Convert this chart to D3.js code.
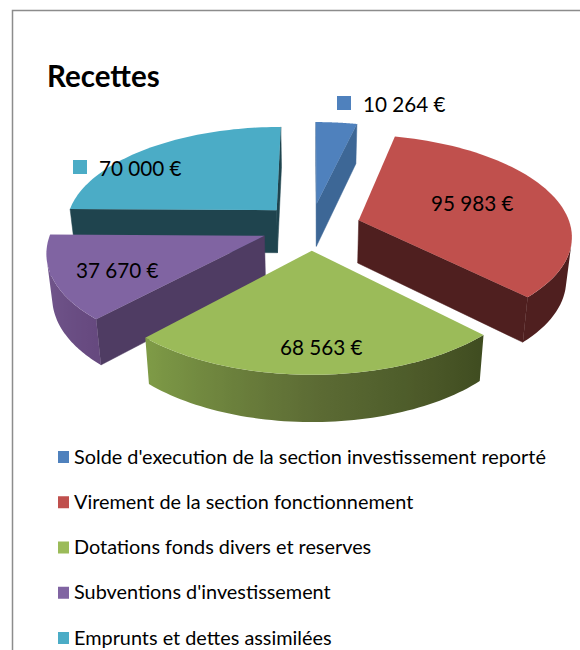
<!DOCTYPE html>
<html>
<head>
<meta charset="utf-8">
<script src="https://cdn.jsdelivr.net/npm/d3@7"></script>
<style>
  html, body { margin: 0; padding: 0; background: #fff; }
  svg { display: block; }
  text { font-family: Lato, "Open Sans", sans-serif; fill: #000; }
</style>
</head>
<body>
<script>
var categories = [
  "Solde d'execution de la section investissement reporté",
  "Virement de la section fonctionnement",
  "Dotations fonds divers et reserves",
  "Subventions d'investissement",
  "Emprunts et dettes assimilées"
];
var values = [10264, 95983, 68563, 37670, 70000];
var valueLabels = ["10 264 €", "95 983 €", "68 563 €", "37 670 €", "70 000 €"];
var topColors = ["#4f81bd", "#c0504d", "#9bbb59", "#8064a2", "#4bacc6"];
var sideColors = ["#3d6796", "#4f1f1f", "#4f3c63", "#4f3c63", "#1f444e"];
// arc wall shading: start of the slice, middle, end (clockwise)
var wallColors = [
  ["#3d6796", "#3d6796", "#3d6796"],
  ["#4f1f1f", "#4f1f1f", "#4f1f1f"],
  ["#3f4c20", "#5c6b34", "#7f9c47"],
  ["#66497f", "#6f5389", "#7a5e94"],
  ["#1f444e", "#2e6675", "#3e8ca0"]
];
// label anchor and marker placement
var labelX = [363, 431, 280, 76, 99];
var labelY = [112, 211, 355, 278, 176];
var markerX = [337, 405, 254, 50, 73];

var w = 580, h = 650;
var cx = 311, cy = 226.5;   // pie centre on screen
var R = 212, flat = 0.468, persp = 0.14;
var explode = 50, depth = 43;

var svg = d3.select('body').append('svg')
    .attr('width', w)
    .attr('height', h);
var defs = svg.append('defs');

// frame
svg.append('path')
    .attr('d', 'M12.5,650V10.5H580')
    .attr('fill', 'none')
    .attr('stroke', '#8c8c8c')
    .attr('stroke-width', 1.5);

svg.append('text')
    .attr('x', 47)
    .attr('y', 87)
    .attr('font-size', 29.5)
    .attr('font-weight', 700)
    .text('Recettes');

var arcs = d3.pie().sort(null)(values);
var line = d3.line();

// ground plane point (right, far) + height drop -> screen
function project(gx, gy, drop) {
  var s = 1 / (1 + persp * gy / R);
  var shrink = 1 - 0.022 * drop;
  return [cx + gx * s * shrink, cy - gy * s * flat + drop * depth * Math.sqrt(s)];
}

function polar(a, r, d) {
  var mid = (d.startAngle + d.endAngle) / 2;
  return [explode * Math.sin(mid) + r * Math.sin(a), explode * Math.cos(mid) + r * Math.cos(a)];
}

function pt(a, r, d, drop) {
  var p = polar(a, r, d);
  return project(p[0], p[1], drop);
}

// signed area of a quad on screen, tells which way a wall faces
function facing(q) {
  var sum = 0;
  q.forEach(function (p, i) {
    var n = q[(i + 1) % q.length];
    sum += p[0] * n[1] - n[0] * p[1];
  });
  return sum;
}

var order = d3.range(arcs.length).sort(function (a, b) {
  var ma = (arcs[a].startAngle + arcs[a].endAngle) / 2;
  var mb = (arcs[b].startAngle + arcs[b].endAngle) / 2;
  return Math.cos(mb) - Math.cos(ma);
});

order.forEach(function (i) {
  var d = arcs[i];
  var g = svg.append('g').attr('class', 'slice');
  var angles = d3.range(0, 61).map(function (k) {
    return d.startAngle + (d.endAngle - d.startAngle) * k / 60;
  });
  var shade = d3.scaleLinear()
      .domain([d.startAngle, (d.startAngle + d.endAngle) / 2, d.endAngle])
      .range(wallColors[i]);

  // radial walls
  [d.startAngle, d.endAngle].forEach(function (a, j) {
    var q = [pt(a, 0, d, 0), pt(a, R, d, 0), pt(a, R, d, 1), pt(a, 0, d, 1)];
    var area = facing(q) * (j === 0 ? 1 : -1);
    if (area < 0) {
      var col = sideColors[i];
      g.append('path').attr('d', line(q) + 'Z')
          .attr('fill', col).attr('stroke', col).attr('stroke-width', 0.5);
    }
  });

  // outer wall: the part of the rim that faces us, one path with a sideways gradient
  var seen = angles.filter(function (a, k) {
    var b = angles[k + 1];
    if (b === undefined) return facing([pt(angles[k - 1], R, d, 0), pt(a, R, d, 0), pt(a, R, d, 1), pt(angles[k - 1], R, d, 1)]) < 0;
    return facing([pt(a, R, d, 0), pt(b, R, d, 0), pt(b, R, d, 1), pt(a, R, d, 1)]) < 0;
  });
  if (seen.length > 1) {
    var x0 = pt(seen[0], R, d, 0)[0];
    var x1 = pt(seen[seen.length - 1], R, d, 0)[0];
    var grad = defs.append('linearGradient')
        .attr('id', 'wall' + i)
        .attr('gradientUnits', 'userSpaceOnUse')
        .attr('x1', x0).attr('y1', 0)
        .attr('x2', x1).attr('y2', 0);
    grad.selectAll('stop')
        .data(seen)
        .enter().append('stop')
        .attr('offset', function (a) { return (pt(a, R, d, 0)[0] - x0) / (x1 - x0); })
        .attr('stop-color', function (a) { return shade(a); });
    var rim = seen.map(function (a) { return pt(a, R, d, 0); })
        .concat(seen.slice().reverse().map(function (a) { return pt(a, R, d, 1); }));
    g.append('path').attr('d', line(rim) + 'Z').attr('fill', 'url(#wall' + i + ')');
  }

  // top face
  var top = [pt(d.startAngle, 0, d, 0)].concat(angles.map(function (a) {
    return pt(a, R, d, 0);
  }));
  g.append('path').attr('d', line(top) + 'Z').attr('fill', topColors[i]);
});

// data labels with their small markers
values.forEach(function (v, i) {
  svg.append('rect')
      .attr('x', markerX[i])
      .attr('y', labelY[i] - 16)
      .attr('width', 14)
      .attr('height', 14)
      .attr('fill', topColors[i]);
  svg.append('text')
      .attr('x', labelX[i])
      .attr('y', labelY[i])
      .attr('font-size', 20.7)
      .text(valueLabels[i]);
});

// legend
var legendY = d3.scalePoint().domain(categories).range([457, 638]);
var legend = svg.selectAll('.legend')
    .data(categories)
    .enter().append('g')
    .attr('class', 'legend')
    .attr('transform', function (d) { return 'translate(0,' + legendY(d) + ')'; });
legend.append('rect')
    .attr('x', 58).attr('y', -6)
    .attr('width', 11).attr('height', 12)
    .attr('fill', function (d, i) { return topColors[i]; });
legend.append('text')
    .attr('x', 74).attr('y', 6.5)
    .attr('font-size', 19.85)
    .text(function (d) { return d; });
</script>
</body>
</html>
